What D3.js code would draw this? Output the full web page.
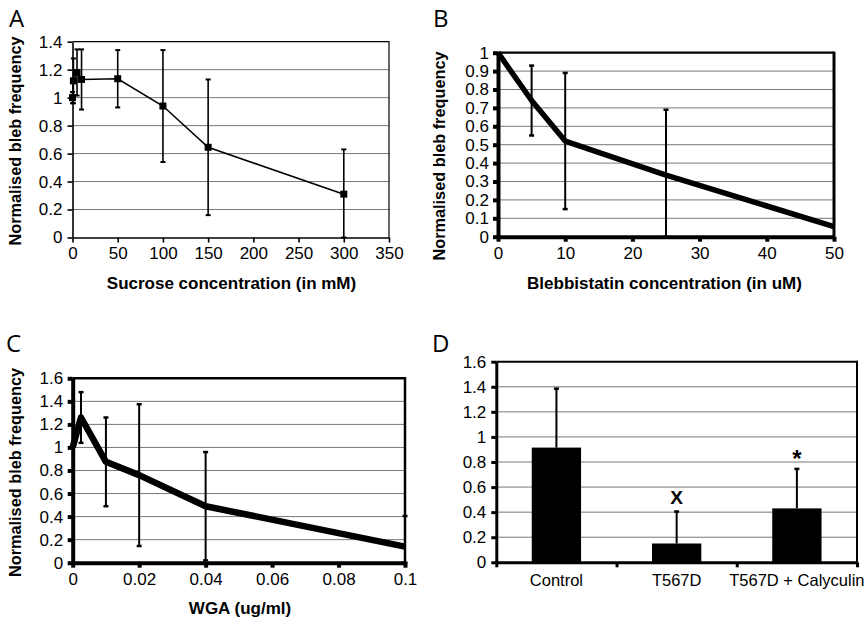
<!DOCTYPE html>
<html><head><meta charset="utf-8">
<script src="https://cdn.jsdelivr.net/npm/d3@7"></script>
<style>html,body{margin:0;padding:0;background:#fff;}</style>
</head><body>
<svg id="c" width="867" height="623"></svg>
<script>
// ---------- DATA ----------
const sucroseX   = [0, 1, 5, 10, 50, 100, 150, 300];
const sucroseY   = [1.0, 1.12, 1.18, 1.13, 1.135, 0.94, 0.645, 0.31];
const sucroseErr = [0.04, 0.16, 0.165, 0.215, 0.205, 0.40, 0.485, 0.32];
const sucroseXTicks = [0, 50, 100, 150, 200, 250, 300, 350];
const sucroseYTicks = [0, 0.2, 0.4, 0.6, 0.8, 1, 1.2, 1.4];

const blebX   = [0, 5, 10, 25, 50];
const blebY   = [1.0, 0.74, 0.52, 0.335, 0.055];
const blebErr = [0, 0.19, 0.37, 0.355, 0];
const blebXTicks = [0, 10, 20, 30, 40, 50];
const blebYTicks = [0, 0.1, 0.2, 0.3, 0.4, 0.5, 0.6, 0.7, 0.8, 0.9, 1];

const wgaX   = [0, 0.0025, 0.01, 0.02, 0.04, 0.1];
const wgaY   = [1.0, 1.26, 0.875, 0.76, 0.49, 0.14];
const wgaErr = [0, 0.22, 0.385, 0.615, 0.47, 0.265];
const wgaXTicks = [0, 0.02, 0.04, 0.06, 0.08, 0.1];
const wgaYTicks = [0, 0.2, 0.4, 0.6, 0.8, 1, 1.2, 1.4, 1.6];

const condCategories = ["Control", "T567D", "T567D + Calyculin"];
const condValues     = [0.915, 0.15, 0.43];
const condErr        = [0.47, 0.255, 0.315];
const condMarks      = ["", "X", "*"];
const condYTicks = [0, 0.2, 0.4, 0.6, 0.8, 1, 1.2, 1.4, 1.6];

// ---------- HELPERS ----------
const FONT = "'Liberation Sans', Arial, sans-serif";
const LETTER_FONT = "'Open Sans', 'Liberation Sans', sans-serif";
const GRID = "#787878";
const TICK_FS = 17;
const svg = d3.select("#c");
const fmt = d3.format("~g");

function grid(g, x, y, ticks) {
  g.append("g").selectAll("line").data(ticks).join("line")
    .attr("x1", x.range()[0]).attr("x2", x.range()[1])
    .attr("y1", d => y(d)).attr("y2", d => y(d))
    .attr("stroke", GRID).attr("stroke-width", 1);
}
function frame(g, x, y, topW, rightW) {
  const [x0, x1] = x.range(), [yb, yt] = y.range();
  g.append("line").attr("x1", x0).attr("x2", x1).attr("y1", yt).attr("y2", yt)
    .attr("stroke", "#000").attr("stroke-width", topW);
  g.append("line").attr("x1", x1).attr("x2", x1).attr("y1", yt - topW/2).attr("y2", yb)
    .attr("stroke", "#000").attr("stroke-width", rightW);
}
function styleAxis(a, sw, fs) {
  a.attr("font-family", FONT).attr("font-size", fs).attr("fill", "#000");
  a.select(".domain").attr("stroke-width", sw).attr("stroke", "#000");
  a.selectAll(".tick line").attr("stroke-width", sw).attr("stroke", "#000");
  a.selectAll(".tick text").attr("fill", "#000");
}
function axes(g, x, y, xt, yt, sw, padX, padY) {
  const ay = g.append("g").attr("transform", `translate(${x.range()[0]},0)`)
    .call(d3.axisLeft(y).tickValues(yt).tickFormat(fmt).tickSize(5).tickSizeOuter(0).tickPadding(padY));
  styleAxis(ay, sw, TICK_FS);
  const ax = g.append("g").attr("transform", `translate(0,${y.range()[0]})`)
    .call(d3.axisBottom(x).tickValues(xt).tickFormat(fmt).tickSize(5).tickSizeOuter(0).tickPadding(padX));
  styleAxis(ax, sw, TICK_FS);
}
function errorBars(g, xs, ys, es, x, y, sw, capW, capH) {
  const data = xs.map((d, i) => ({x: d, y: ys[i], e: es[i]})).filter(d => d.e > 0);
  const eg = g.append("g");
  eg.selectAll("line.v").data(data).join("line").attr("class", "v")
    .attr("x1", d => x(d.x)).attr("x2", d => x(d.x))
    .attr("y1", d => y(Math.max(0, d.y - d.e))).attr("y2", d => y(d.y + d.e))
    .attr("stroke", "#000").attr("stroke-width", sw);
  const caps = [];
  data.forEach(d => { caps.push({x: d.x, v: d.y + d.e}); caps.push({x: d.x, v: Math.max(0, d.y - d.e)}); });
  eg.selectAll("line.c").data(caps).join("line").attr("class", "c")
    .attr("x1", d => x(d.x) - capW/2).attr("x2", d => x(d.x) + capW/2)
    .attr("y1", d => y(d.v)).attr("y2", d => y(d.v))
    .attr("stroke", "#000").attr("stroke-width", capH);
}
function yTitle(g, text, cx, cy) {
  g.append("text").attr("transform", `translate(${cx},${cy}) rotate(-90)`)
    .attr("text-anchor", "middle").attr("font-family", FONT).attr("font-weight", "bold")
    .attr("font-size", 16.3).text(text);
}
function xTitle(g, text, cx, by) {
  g.append("text").attr("x", cx).attr("y", by).attr("text-anchor", "middle")
    .attr("font-family", FONT).attr("font-weight", "bold").attr("font-size", 17).text(text);
}
function letter(text, x, y) {
  svg.append("text").attr("x", x).attr("y", y).attr("font-family", LETTER_FONT)
    .attr("font-size", 24).attr("fill", "#000").text(text);
}

// ---------- PANEL A ----------
{
  const g = svg.append("g");
  const x = d3.scaleLinear().domain([0, 350]).range([72.5, 389]);
  const y = d3.scaleLinear().domain([0, 1.4]).range([237.5, 41.7]);
  grid(g, x, y, sucroseYTicks.slice(1, -1));
  frame(g, x, y, 1.2, 1.2);
  const line = d3.line().x((d, i) => x(sucroseX[i])).y(d => y(d));
  g.append("path").datum(sucroseY).attr("d", line).attr("fill", "none")
    .attr("stroke", "#000").attr("stroke-width", 1.6);
  errorBars(g, sucroseX, sucroseY, sucroseErr, x, y, 1.6, 5, 2);
  g.append("g").selectAll("rect").data(sucroseY).join("rect")
    .attr("x", (d, i) => x(sucroseX[i]) - 3.5).attr("y", d => y(d) - 3.5)
    .attr("width", 7).attr("height", 7).attr("fill", "#000");
  axes(g, x, y, sucroseXTicks, sucroseYTicks, 1.6, 4.5, 5);
  yTitle(g, "Normalised bleb frequency", 21, 141);
  xTitle(g, "Sucrose concentration (in mM)", 231.5, 289);
  letter("A", 9, 27);
}

// ---------- PANEL B ----------
{
  const g = svg.append("g");
  const x = d3.scaleLinear().domain([0, 50]).range([498, 834]);
  const y = d3.scaleLinear().domain([0, 1]).range([236.7, 52.7]);
  grid(g, x, y, blebYTicks.slice(1, -1));
  frame(g, x, y, 2.2, 3);
  const line = d3.line().x((d, i) => x(blebX[i])).y(d => y(d));
  g.append("path").datum(blebY).attr("d", line).attr("fill", "none")
    .attr("stroke", "#000").attr("stroke-width", 5.5).attr("stroke-linejoin", "round");
  errorBars(g, blebX, blebY, blebErr, x, y, 2, 5, 2.5);
  axes(g, x, y, blebXTicks, blebYTicks, 4, 5.5, 4);
  yTitle(g, "Normalised bleb frequency", 445, 156);
  xTitle(g, "Blebbistatin concentration (in uM)", 664.5, 289);
  letter("B", 433, 27);
}

// ---------- PANEL C ----------
{
  const g = svg.append("g");
  const x = d3.scaleLinear().domain([0, 0.1]).range([72.7, 405]);
  const y = d3.scaleLinear().domain([0, 1.6]).range([562.7, 378.3]);
  grid(g, x, y, wgaYTicks.slice(1, -1));
  frame(g, x, y, 2.5, 2.5);
  const line = d3.line().x((d, i) => x(wgaX[i])).y(d => y(d));
  g.append("path").datum(wgaY).attr("d", line).attr("fill", "none")
    .attr("stroke", "#000").attr("stroke-width", 6.5).attr("stroke-linejoin", "round");
  errorBars(g, wgaX, wgaY, wgaErr, x, y, 2, 5, 2.5);
  axes(g, x, y, wgaXTicks, wgaYTicks, 4, 5, 4.5);
  yTitle(g, "Normalised bleb frequency", 21, 472.5);
  xTitle(g, "WGA (ug/ml)", 240, 614);
  letter("C", 6, 352);
}

// ---------- PANEL D ----------
{
  const g = svg.append("g");
  const x = d3.scaleBand().domain(condCategories).range([496.3, 857]).paddingInner(0.59).paddingOuter(0.295);
  const y = d3.scaleLinear().domain([0, 1.6]).range([562.3, 361.7]);
  const xl = d3.scaleLinear().domain([0, condCategories.length]).range([496.3, 857]);
  grid(g, xl, y, condYTicks.slice(1, -1));
  frame(g, xl, y, 2, 2);
  g.append("g").selectAll("rect").data(condValues).join("rect")
    .attr("x", (d, i) => x(condCategories[i])).attr("width", x.bandwidth())
    .attr("y", d => y(d)).attr("height", d => y(0) - y(d)).attr("fill", "#000");
  const cx = i => x(condCategories[i]) + x.bandwidth() / 2;
  g.append("g").selectAll("line").data(condValues).join("line")
    .attr("x1", (d, i) => cx(i)).attr("x2", (d, i) => cx(i))
    .attr("y1", d => y(d)).attr("y2", (d, i) => y(d + condErr[i]))
    .attr("stroke", "#000").attr("stroke-width", 2);
  g.append("g").selectAll("line").data(condValues).join("line")
    .attr("x1", (d, i) => cx(i) - 2.5).attr("x2", (d, i) => cx(i) + 2.5)
    .attr("y1", (d, i) => y(d + condErr[i])).attr("y2", (d, i) => y(d + condErr[i]))
    .attr("stroke", "#000").attr("stroke-width", 2.5);
  g.append("g").selectAll("text").data(condMarks).join("text")
    .attr("x", (d, i) => cx(i)).attr("y", (d, i) => y(condValues[i] + condErr[i]) - (d === "*" ? 2 : 8))
    .attr("text-anchor", "middle").attr("font-family", FONT).attr("font-weight", "bold")
    .attr("font-size", d => d === "*" ? 24 : 19).text(d => d);
  const ay = g.append("g").attr("transform", `translate(${xl.range()[0]},0)`)
    .call(d3.axisLeft(y).tickValues(condYTicks).tickFormat(fmt).tickSize(5).tickSizeOuter(0).tickPadding(5));
  styleAxis(ay, 3, TICK_FS);
  const ab = g.append("g").attr("transform", `translate(0,${y.range()[0]})`)
    .call(d3.axisBottom(xl).tickValues(d3.range(condCategories.length + 1)).tickFormat("").tickSize(5).tickSizeOuter(0));
  styleAxis(ab, 3, TICK_FS);
  const ac = g.append("g").attr("transform", `translate(0,${y.range()[0]})`)
    .call(d3.axisBottom(x).tickSize(0).tickPadding(12));
  styleAxis(ac, 0, 16.5);
  ac.select(".domain").remove();
  letter("D", 432, 352);
}
</script>
</body></html>
